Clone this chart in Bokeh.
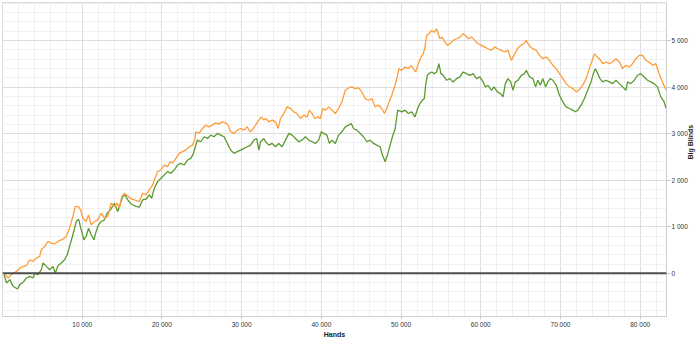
import math
from bokeh.plotting import figure
from bokeh.models import FixedTicker, Span
from bokeh.embed import file_html
from bokeh.resources import INLINE

# ---- data ----
orange_hands = [200, 708, 1125, 1750, 2375, 3000, 3417, 3833, 4250, 4667, 4875, 5292, 5708, 6125, 6542, 6958,
                7583, 8000, 8417, 8833, 9125, 9542, 9792, 10083, 10500, 10792, 11125, 11542, 11958, 12375, 12792,
                13208, 13625, 14042, 14375, 14667, 14958, 15292, 15708, 16125, 16542, 17167, 17583, 18000, 18417,
                18833, 19125, 19458, 19875, 20292, 20708, 21042, 21333, 21750, 22167, 22583, 23000, 23417, 23833,
                24125, 24250, 24667, 25083, 25500, 25917, 26333, 26750, 27167, 27583, 28000, 28292, 28625, 29042,
                29458, 29875, 30292, 30708, 31042, 31333, 31750, 32167, 32458, 32792, 33000, 33417, 33833, 34250,
                34583, 34875, 35292, 35708, 36125, 36542, 36958, 37375, 37792, 38208, 38500, 38833, 39167, 39583,
                39875, 40167, 40500, 40917, 41333, 41750, 42167, 42583, 43000, 43417, 43833, 44250, 44667, 45083,
                45500, 45917, 46333, 46750, 47167, 47583, 47917, 48208, 48500, 48833, 49250, 49458, 49750, 50083,
                50500, 50917, 51250, 51542, 51833, 52167, 52500, 52792, 53000, 53208, 53500, 53833, 54167, 54458,
                54667, 54875, 55167, 55500, 55833, 56125, 56542, 56958, 57375, 57792, 58083, 58417, 58833, 59250,
                59667, 60083, 60500, 60917, 61333, 61750, 62167, 62583, 63000, 63417, 63833, 64167, 64583, 65000,
                65417, 65708, 66125, 66542, 66958, 67375, 67792, 68208, 68625, 69042, 69458, 69875, 70292, 70708,
                71125, 71542, 71958, 72375, 72792, 73208, 73625, 74042, 74250, 74458, 74875, 75292, 75708, 76125,
                76542, 76958, 77375, 77792, 78208, 78625, 79042, 79458, 79875, 80292, 80708, 81125, 81542, 81958,
                82375, 82792, 83250]
orange_bb = [0, -100, -28, 43, 136, 164, 293, 257, 329, 364, 507, 578, 685, 650, 635, 685,
             735, 792, 971, 1221, 1435, 1435, 1363, 1185, 1114, 1256, 1042, 1114, 1149, 1292, 1185,
             1221, 1506, 1435, 1506, 1399, 1649, 1720, 1663, 1600, 1578, 1542, 1721, 1685, 1792,
             1899, 2042, 2185, 2220, 2327, 2292, 2399, 2363, 2470, 2577, 2613, 2648, 2720, 2756,
             2863, 3041, 3005, 3112, 3184, 3148, 3184, 3234, 3205, 3255, 3234, 3184, 3041, 3005,
             3077, 3112, 3077, 3148, 3041, 3077, 3184, 3291, 3362, 3291, 3326, 3255, 3291, 3255,
             3112, 3326, 3433, 3576, 3540, 3469, 3433, 3326, 3398, 3362, 3505, 3433, 3326, 3362,
             3326, 3540, 3505, 3576, 3505, 3433, 3540, 3683, 3933, 3983, 4004, 3969, 3983, 3897,
             3754, 3719, 3754, 3576, 3612, 3540, 3433, 3540, 3683, 3826, 4040, 4183, 4397, 4361,
             4433, 4397, 4468, 4397, 4326, 4504, 4647, 4718, 4861, 5111, 5147, 5218, 5182, 5254,
             5147, 5039, 5075, 4968, 4897, 4932, 5004, 5039, 5075, 5147, 5111, 5039, 5075, 5004,
             4932, 4897, 4861, 4825, 4790, 4861, 4825, 4790, 4754, 4790, 4576, 4683, 4825, 4897,
             4932, 5004, 4880, 4826, 4790, 4683, 4611, 4647, 4576, 4469, 4397, 4290, 4183, 4076,
             4005, 3969, 3898, 3948, 4041, 4183, 4397, 4611, 4719, 4683, 4611, 4504, 4540, 4504,
             4540, 4611, 4540, 4397, 4469, 4433, 4504, 4611, 4683, 4683, 4576, 4540, 4469, 4504,
             4290, 4112, 3933]

green_hands = [200, 500, 917, 1333, 1875, 2167, 2583, 3000, 3417, 3833, 4042, 4458, 4875, 5083, 5500, 5917,
               6333, 6625, 6958, 7375, 7792, 8125, 8417, 8833, 9250, 9542, 9875, 10208, 10500, 10792, 11125,
               11458, 11750, 12042, 12375, 12792, 13125, 13542, 14042, 14458, 14667, 15083, 15375, 15708, 16125,
               16750, 17167, 17583, 18000, 18417, 18708, 19042, 19458, 19875, 20292, 20708, 21125, 21542, 21958,
               22375, 22792, 23208, 23625, 23958, 24250, 24458, 24875, 25292, 25708, 26125, 26542, 26958, 27375,
               27792, 28208, 28625, 29042, 29458, 29875, 30292, 30708, 31125, 31542, 31875, 32167, 32375, 32792,
               33000, 33417, 33833, 34250, 34667, 35083, 35500, 35917, 36333, 36750, 37167, 37583, 38000, 38417,
               38833, 39250, 39667, 40000, 40292, 40708, 41000, 41333, 41750, 42167, 42583, 43000, 43417, 43750,
               44042, 44458, 44875, 45292, 45708, 46125, 46542, 46958, 47375, 47667, 48000, 48292, 48625, 48917,
               49250, 49583, 50083, 50500, 50917, 51333, 51750, 52083, 52375, 52667, 52917, 53083, 53292, 53500,
               53833, 54167, 54458, 54750, 55000, 55292, 55708, 56125, 56542, 56958, 57375, 57792, 58208, 58625,
               59042, 59458, 59875, 60292, 60583, 60917, 61333, 61667, 62083, 62500, 62792, 63083, 63417, 63750,
               64042, 64333, 64667, 65083, 65500, 65708, 66125, 66542, 66875, 67167, 67458, 67792, 68125, 68417,
               68708, 69042, 69458, 69875, 70292, 70708, 71125, 71542, 71875, 72167, 72583, 73000, 73417, 73833,
               74125, 74375, 74667, 74958, 75292, 75708, 76125, 76542, 76958, 77375, 77792, 78208, 78417, 78833,
               79250, 79667, 80083, 80500, 80917, 81333, 81750, 82167, 82583, 83000, 83250]
green_bb = [-28, -207, -135, -278, -335, -242, -192, -100, -64, -100, -7, -28, 79, 222, 150, 79,
            150, 7, 164, 222, 293, 400, 578, 828, 1114, 1164, 935, 721, 792, 971, 828,
            721, 900, 1042, 1114, 1149, 1292, 1363, 1506, 1328, 1435, 1649, 1685, 1578, 1490,
            1440, 1421, 1578, 1592, 1685, 1614, 1828, 1970, 2042, 2113, 2185, 2149, 2220, 2327,
            2363, 2327, 2434, 2470, 2577, 2756, 2863, 2827, 2934, 2898, 2970, 2934, 3005, 2970,
            2934, 2791, 2648, 2577, 2613, 2648, 2684, 2720, 2756, 2863, 2898, 2648, 2827, 2898,
            2827, 2755, 2791, 2720, 2791, 2720, 2862, 3005, 2969, 2898, 2827, 2862, 2934, 2862,
            2827, 2791, 2862, 3041, 3005, 2969, 2791, 2862, 2791, 2969, 3041, 3148, 3183, 3219,
            3112, 3076, 3005, 2934, 2827, 2862, 2791, 2755, 2720, 2541, 2398, 2541, 2755, 2934,
            3100, 3505, 3469, 3505, 3434, 3469, 3362, 3541, 3648, 3719, 3755, 4040, 4254, 4290,
            4326, 4290, 4326, 4504, 4290, 4254, 4147, 4183, 4112, 4183, 4219, 4326, 4290, 4254,
            4290, 4183, 4219, 4112, 4005, 4040, 3933, 4005, 3898, 3862, 3791, 4076, 4183, 4112,
            3933, 4112, 4147, 4254, 4290, 4361, 4219, 4183, 4005, 4148, 4041, 4183, 4005, 4112,
            4183, 4148, 4041, 3826, 3684, 3577, 3541, 3505, 3470, 3505, 3612, 3755, 3933, 4112,
            4290, 4397, 4290, 4183, 4112, 4148, 4112, 4076, 4148, 4076, 4005, 3933, 4112, 4076,
            4148, 4255, 4290, 4219, 4148, 4112, 4076, 4005, 3791, 3684, 3541]

x_ticks = [10000, 20000, 30000, 40000, 50000, 60000, 70000, 80000]
x_tick_labels = ["10 000", "20 000", "30 000", "40 000", "50 000", "60 000", "70 000", "80 000"]
y_ticks = [0, 1000, 2000, 3000, 4000, 5000]
y_tick_labels = ["0", "1 000", "2 000", "3 000", "4 000", "5 000"]
x_title = "Hands"
y_title = "Big Blinds"

# ---- figure ----
p = figure(width=700, height=340, output_backend="svg", toolbar_location=None,
           x_range=(0, 83300), y_range=(-927, 5818), y_axis_location="right",
           min_border_left=2, min_border_top=2, min_border_right=33, min_border_bottom=23,
           background_fill_color="white", border_fill_color="white")
p.outline_line_color = "#d9d9d9"

x_minor = list(range(0, 84001, 2000))
y_minor = list(range(-1000, 5801, 200))
p.xaxis.ticker = FixedTicker(ticks=x_ticks, minor_ticks=x_minor)
p.yaxis.ticker = FixedTicker(ticks=y_ticks, minor_ticks=y_minor)
p.xgrid.ticker = p.xaxis[0].ticker
p.ygrid.ticker = p.yaxis[0].ticker
p.xaxis.major_label_overrides = {t: l for t, l in zip(x_ticks, x_tick_labels)}
p.yaxis.major_label_overrides = {t: l for t, l in zip(y_ticks, y_tick_labels)}

for g in (p.xgrid, p.ygrid):
    g.grid_line_color = "#dedede"
    g.grid_line_width = 1
    g.minor_grid_line_color = "#f0f0f0"
    g.minor_grid_line_width = 1

for ax in (p.xaxis, p.yaxis):
    ax.axis_line_color = "#d0d0d0"
    ax.major_tick_line_color = "#c8c8c8"
    ax.major_tick_in = 0
    ax.minor_tick_line_color = None
    ax.major_label_text_font = "Liberation Sans"
    ax.major_label_text_font_size = "6.5px"
    ax.major_label_text_color = "#333333"
    ax.axis_label_text_font = "Liberation Sans"
    ax.axis_label_text_font_size = "7px"
    ax.axis_label_text_font_style = "bold"
    ax.axis_label_text_color = "#222222"

p.xaxis.major_tick_out = 3
p.xaxis.major_label_standoff = 0
p.xaxis.axis_label = x_title
p.xaxis.axis_label_standoff = 0

p.yaxis.major_tick_out = 4
p.yaxis.major_label_standoff = 1
p.yaxis.axis_label = y_title
p.yaxis.axis_label_standoff = 0
p.yaxis.axis_label_orientation = math.pi / 2

p.line(green_hands, green_bb, line_color="#5b9a2f", line_width=1.3)
p.line(orange_hands, orange_bb, line_color="#ff9c3a", line_width=1.3)

p.add_layout(Span(location=0, dimension="width", line_color="#4d4d4d", line_width=2))

open("out.html", "w").write(file_html(p, INLINE))
